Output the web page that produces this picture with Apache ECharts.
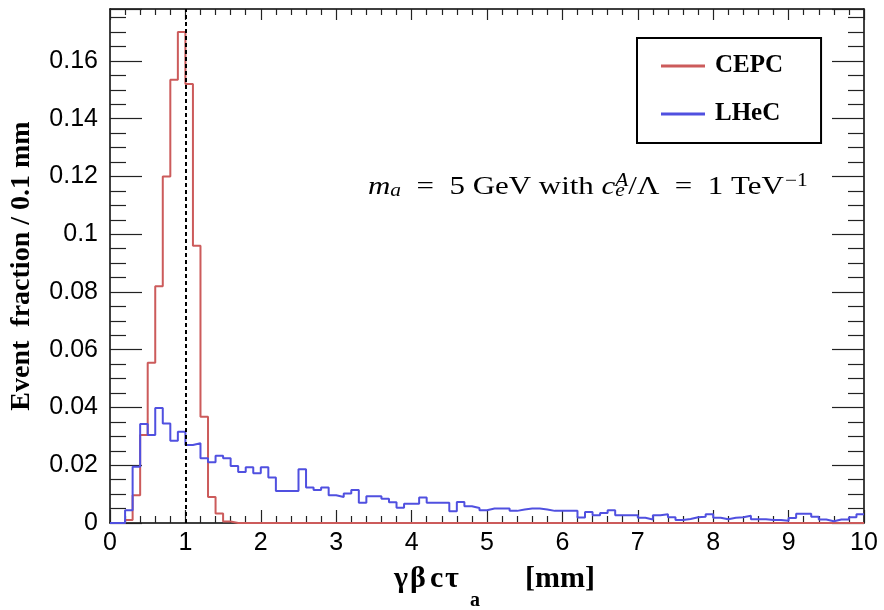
<!DOCTYPE html>
<html>
<head>
<meta charset="utf-8">
<script src="https://cdn.jsdelivr.net/npm/echarts@6.0.0/dist/echarts.min.js"></script>
<style>
html, body { margin: 0; padding: 0; background: #fff; }
#main { width: 884px; height: 610px; }
</style>
</head>
<body>
<div id="main"></div>
<script>
// histogram bins: 0.1 mm wide, 0 .. 10 mm
var binWidth = 0.1;
var xMax = 10;
var yMax = 0.178;
var seriesNames = ['CEPC', 'LHeC'];

var cepc = [
    0, 0, 0.001, 0.0096, 0.0305, 0.0555, 0.082, 0.120, 0.1535, 0.170,
    0.152, 0.096, 0.0368, 0.009, 0.0033, 0.0005, 0, 0, 0, 0,
    0, 0, 0, 0, 0, 0, 0, 0, 0, 0,
    0, 0, 0, 0, 0, 0, 0, 0, 0, 0,
    0, 0, 0, 0, 0, 0, 0, 0, 0, 0,
    0, 0, 0, 0, 0, 0, 0, 0, 0, 0,
    0, 0, 0, 0, 0, 0, 0, 0, 0, 0,
    0, 0, 0, 0, 0, 0, 0, 0, 0, 0,
    0, 0, 0, 0, 0, 0, 0, 0, 0, 0,
    0, 0, 0, 0, 0, 0, 0, 0, 0, 0
];

var lhec = [
    0, 0, 0.0044, 0.0195, 0.0343, 0.0305, 0.0398, 0.0345, 0.0285, 0.0316,
    0.027, 0.0276, 0.0224, 0.021, 0.0233, 0.0224, 0.0197, 0.0177, 0.0193, 0.0172,
    0.0193, 0.0158, 0.0111, 0.0111, 0.0111, 0.0186, 0.0123, 0.0114, 0.0123, 0.0096,
    0.009, 0.0102, 0.0114, 0.007, 0.0093, 0.0093, 0.0084, 0.0072, 0.0053, 0.0067,
    0.0067, 0.0088, 0.007, 0.007, 0.007, 0.0041, 0.0073, 0.0058, 0.0052, 0.0044,
    0.005, 0.005, 0.005, 0.0042, 0.0047, 0.005, 0.005, 0.0047, 0.0042, 0.0042,
    0.0042, 0.0042, 0.0019, 0.0038, 0.0027, 0.0035, 0.0044, 0.0027, 0.0027, 0.0027,
    0.0018, 0.0012, 0.0027, 0.003, 0.002, 0.001, 0.0014, 0.002, 0.0022, 0.003,
    0.0018, 0.0013, 0.0018, 0.002, 0.0025, 0.0013, 0.0013, 0.001, 0.001, 0.0008,
    0.0017, 0.0032, 0.0032, 0.0022, 0.0012, 0.0006, 0.0012, 0.0012, 0.002, 0.003
];

// turn bin contents into step points (left edge of each bin + closing edge)
function toSteps(vals) {
    var pts = [];
    for (var i = 0; i < vals.length; i++) {
        pts.push([+(i * binWidth).toFixed(2), vals[i]]);
    }
    pts.push([+(vals.length * binWidth).toFixed(2), vals[vals.length - 1]]);
    return pts;
}

var serif = 'Liberation Serif';
var sans = 'Liberation Sans';

// the m_a / coupling note, as rich text (sub = subscript, sup = superscript)
var noteText = '{it|m}{sub|a}{n|  =  5 GeV with }{it|c}{sub|e}{supb|A}{n|/\u039B  =  1 TeV}{sup|\u22121}';
var noteRich = {
    n: { fontFamily: serif, fontSize: 26, lineHeight: 30 },
    it: { fontFamily: serif, fontSize: 26, lineHeight: 30, fontStyle: 'italic' },
    sub: { fontFamily: serif, fontSize: 18, lineHeight: 18, fontStyle: 'italic', verticalAlign: 'bottom', padding: [0, 0, 2, 0] },
    supb: { fontFamily: serif, fontSize: 18, lineHeight: 18, fontStyle: 'italic', verticalAlign: 'top', padding: [0, 0, 18, -8] },
    sup: { fontFamily: serif, fontSize: 18, lineHeight: 18, verticalAlign: 'top', padding: [0, 0, 18, 1] }
};

// x title pieces: [text, x, y, size]
var xTitleParts = [
    ['\u03B3', 394, 579, 30],
    ['\u03B2', 410, 579, 30],
    ['c', 430, 579, 30],
    ['\u03C4', 445, 579, 30],
    ['a', 470, 601, 20],
    ['[mm]', 525, 579, 30]
];

var graphics = xTitleParts.map(function (p) {
    return {
        type: 'text',
        x: p[1],
        y: p[2],
        silent: true,
        style: {
            text: p[0],
            fontFamily: serif,
            fontSize: p[3],
            fontWeight: 'bold',
            fill: '#000',
            verticalAlign: 'middle'
        }
    };
});
graphics.push({
    type: 'text',
    x: 368,
    y: 187,
    scaleX: 1.19,
    silent: true,
    style: {
        text: noteText,
        rich: noteRich,
        fill: '#000',
        verticalAlign: 'middle'
    }
});

var myChart = echarts.init(document.getElementById('main'));

var lineCol = '#000';

function xAxisCfg(pos, showLabel, tickLen, minorLen) {
    return {
        type: 'value',
        position: pos,
        min: 0,
        max: xMax,
        interval: 1,
        axisLine: { show: true, onZero: false, lineStyle: { color: lineCol, width: 1.5 } },
        axisTick: { show: true, inside: true, length: tickLen, lineStyle: { color: '#222', width: 1.2 } },
        minorTick: { show: true, splitNumber: 5, length: minorLen, lineStyle: { color: '#222', width: 1.2 } },
        splitLine: { show: false },
        axisLabel: {
            show: showLabel,
            fontFamily: sans,
            fontSize: 25,
            color: '#000',
            margin: 8
        }
    };
}

function yAxisCfg(pos, showLabel) {
    return {
        type: 'value',
        position: pos,
        min: 0,
        max: yMax,
        interval: 0.02,
        axisLine: { show: true, onZero: false, lineStyle: { color: lineCol, width: 1.5 } },
        axisTick: { show: true, inside: true, length: 32, lineStyle: { color: '#222', width: 1.2 } },
        minorTick: { show: true, splitNumber: 4, length: 16, lineStyle: { color: '#222', width: 1.2 } },
        splitLine: { show: false },
        axisLabel: {
            show: showLabel,
            showMaxLabel: false,
            fontFamily: sans,
            fontSize: 25,
            color: '#000',
            margin: 12
        },
        name: showLabel ? 'Event  fraction / 0.1 mm' : '',
        nameLocation: 'middle',
        nameGap: 74,
        nameTextStyle: {
            fontFamily: serif,
            fontWeight: 'bold',
            fontSize: 28,
            color: '#000'
        }
    };
}

option = {
    backgroundColor: '#fff',
    animation: false,
    grid: {
        left: 109,
        right: 20,
        top: 9,
        bottom: 87
    },
    legend: {
        data: seriesNames,
        orient: 'vertical',
        left: 637,
        top: 38,
        icon: 'rect',
        itemWidth: 44,
        itemHeight: 3,
        itemGap: 22,
        padding: [15, 38, 16, 24],
        borderColor: '#000',
        borderWidth: 2,
        textStyle: {
            fontFamily: serif,
            fontWeight: 'bold',
            fontSize: 25,
            lineHeight: 26,
            color: '#000',
            padding: [0, 0, 0, 5]
        }
    },
    xAxis: [
        xAxisCfg('bottom', true, 13, 7),
        xAxisCfg('top', false, 11, 6)
    ],
    yAxis: [
        yAxisCfg('left', true),
        yAxisCfg('right', false)
    ],
    graphic: graphics,
    series: [
        {
            name: seriesNames[0],
            type: 'line',
            step: 'end',
            symbol: 'none',
            data: toSteps(cepc),
            lineStyle: { color: '#cc5b5b', width: 2 },
            itemStyle: { color: '#cc5b5b' },
            markLine: {
                silent: true,
                symbol: ['none', 'none'],
                label: { show: false },
                lineStyle: { color: '#000', type: [4, 3], width: 2 },
                data: [{ xAxis: 1 }]
            }
        },
        {
            name: seriesNames[1],
            type: 'line',
            step: 'end',
            symbol: 'none',
            data: toSteps(lhec),
            lineStyle: { color: '#5050e0', width: 2 },
            itemStyle: { color: '#5050e0' }
        }
    ]
};

myChart.setOption(option);
</script>
</body>
</html>
